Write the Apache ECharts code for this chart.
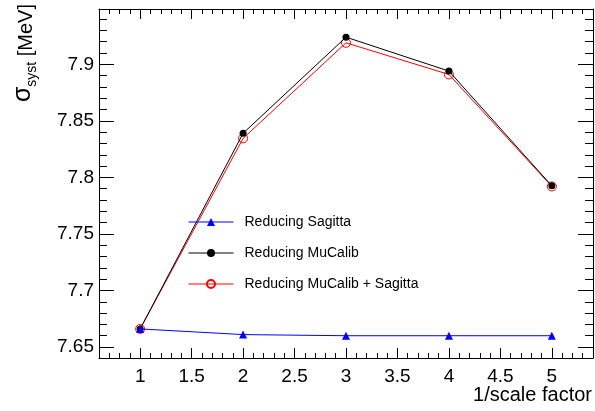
<!DOCTYPE html>
<html>
<head>
<meta charset="utf-8">
<script src="https://cdn.jsdelivr.net/npm/echarts@6/dist/echarts.min.js"></script>
<style>html,body{margin:0;padding:0;background:#fff}#c{width:595px;height:411px}</style>
</head>
<body>
<div id="c"></div>
<script>
var scaleFactors = [1, 2, 3, 4, 5];
var reducingSagitta = [7.666, 7.661, 7.660, 7.660, 7.660];
var reducingMuCalib = [7.666, 7.839, 7.924, 7.894, 7.7925];
var reducingBoth = [7.666, 7.8345, 7.919, 7.891, 7.792];
var seriesNames = ['Reducing Sagitta', 'Reducing MuCalib', 'Reducing MuCalib + Sagitta'];
var xMajorTicks = [1, 1.5, 2, 2.5, 3, 3.5, 4, 4.5, 5];
var yMajorTicks = [7.65, 7.7, 7.75, 7.8, 7.85, 7.9];
var xRange = [0.6, 5.4];
var yRange = [7.6403, 7.9489];

function minorTicks(lo, hi, step) {
  var out = [];
  var n0 = Math.ceil(lo / step - 1e-6), n1 = Math.floor(hi / step + 1e-6);
  for (var i = n0; i <= n1; i++) {
    var v = +(i * step).toFixed(4);
    if (v > lo + 1e-6 && v < hi - 1e-6) out.push(v);
  }
  return out;
}
var xMinor = minorTicks(xRange[0], xRange[1], 0.1);
var yMinor = minorTicks(yRange[0], yRange[1], 0.01);

function pairs(ys) { return scaleFactors.map(function (x, i) { return [x, ys[i]]; }); }

var FONT = 'Liberation Sans';
var lineCol = '#000';

function xAx(pos, vals, len, showLine, labels) {
  return {
    type: 'value', position: pos, min: xRange[0], max: xRange[1],
    axisLine: { show: showLine, onZero: false, lineStyle: { color: lineCol, width: 1 } },
    axisTick: { show: true, inside: true, length: len, customValues: vals, lineStyle: { color: lineCol, width: 1 } },
    axisLabel: labels ? { show: true, customValues: vals, margin: 9, fontFamily: FONT, fontSize: 19, color: '#000',
      formatter: function (v) { return String(+(+v).toFixed(3)); } } : { show: false },
    splitLine: { show: false }
  };
}
function yAx(pos, vals, len, showLine, labels) {
  return {
    type: 'value', position: pos, min: yRange[0], max: yRange[1],
    axisLine: { show: showLine, onZero: false, lineStyle: { color: lineCol, width: 1 } },
    axisTick: { show: true, inside: true, length: len, customValues: vals, lineStyle: { color: lineCol, width: 1 } },
    axisLabel: labels ? { show: true, customValues: vals, margin: 5, fontFamily: FONT, fontSize: 19, color: '#000',
      formatter: function (v) { return String(+(+v).toFixed(3)); } } : { show: false },
    splitLine: { show: false }
  };
}

var chart = echarts.init(document.getElementById('c'), null, { renderer: 'canvas' });
chart.setOption({
  animation: false,
  backgroundColor: '#fff',
  grid: { left: 99, right: 2, top: 9, bottom: 53, containLabel: false },
  xAxis: [
    xAx('bottom', xMajorTicks, 10, true, true),
    xAx('bottom', xMinor, 5, false, false),
    xAx('top', xMajorTicks, 10, true, false),
    xAx('top', xMinor, 5, false, false)
  ],
  yAxis: [
    yAx('left', yMajorTicks, 15, true, true),
    yAx('left', yMinor, 8, false, false),
    yAx('right', yMajorTicks, 15, true, false),
    yAx('right', yMinor, 8, false, false)
  ],
  legend: {
    orient: 'vertical', left: 183, top: 210, itemWidth: 45, itemHeight: 10, itemGap: 17,
    lineStyle: { width: 1 },
    textStyle: { fontFamily: FONT, fontSize: 14, color: '#000', padding: [0, 0, 0, 6] },
    data: seriesNames
  },
  graphic: [
    { type: 'text', x: 592, y: 395, style: { text: '1/scale factor', fontFamily: FONT, fontSize: 20, fill: '#000', align: 'right', verticalAlign: 'middle' } },
    { type: 'text', x: 39, y: 4, rotation: Math.PI / 2,
      style: { text: '{s|σ}{b|syst}{a| [MeV]}', align: 'right', verticalAlign: 'bottom',
        rich: {
          s: { fontFamily: FONT, fontSize: 25, fill: '#000', verticalAlign: 'bottom', padding: [0, 0, 3, 0] },
          a: { fontFamily: FONT, fontSize: 20, fill: '#000', verticalAlign: 'bottom', padding: [0, 0, 3, 0] },
          b: { fontFamily: FONT, fontSize: 14, fill: '#000', verticalAlign: 'bottom' }
        } } }
  ],
  series: [
    { name: seriesNames[2], type: 'line', z: 2, data: pairs(reducingBoth), symbol: 'circle', symbolSize: 9,
      lineStyle: { color: '#ff0000', width: 1 }, itemStyle: { color: 'rgba(255,255,255,0)', borderColor: '#ff0000', borderWidth: 1 } },
    { name: seriesNames[1], type: 'line', z: 3, data: pairs(reducingMuCalib), symbol: 'circle', symbolSize: 7,
      lineStyle: { color: '#000', width: 1 }, itemStyle: { color: '#000' } },
    { name: seriesNames[0], type: 'line', z: 4, data: pairs(reducingSagitta), symbol: 'triangle', symbolSize: 8,
      lineStyle: { color: '#0000ff', width: 1 }, itemStyle: { color: '#0000ff' } }
  ]
});
</script>
</body>
</html>
